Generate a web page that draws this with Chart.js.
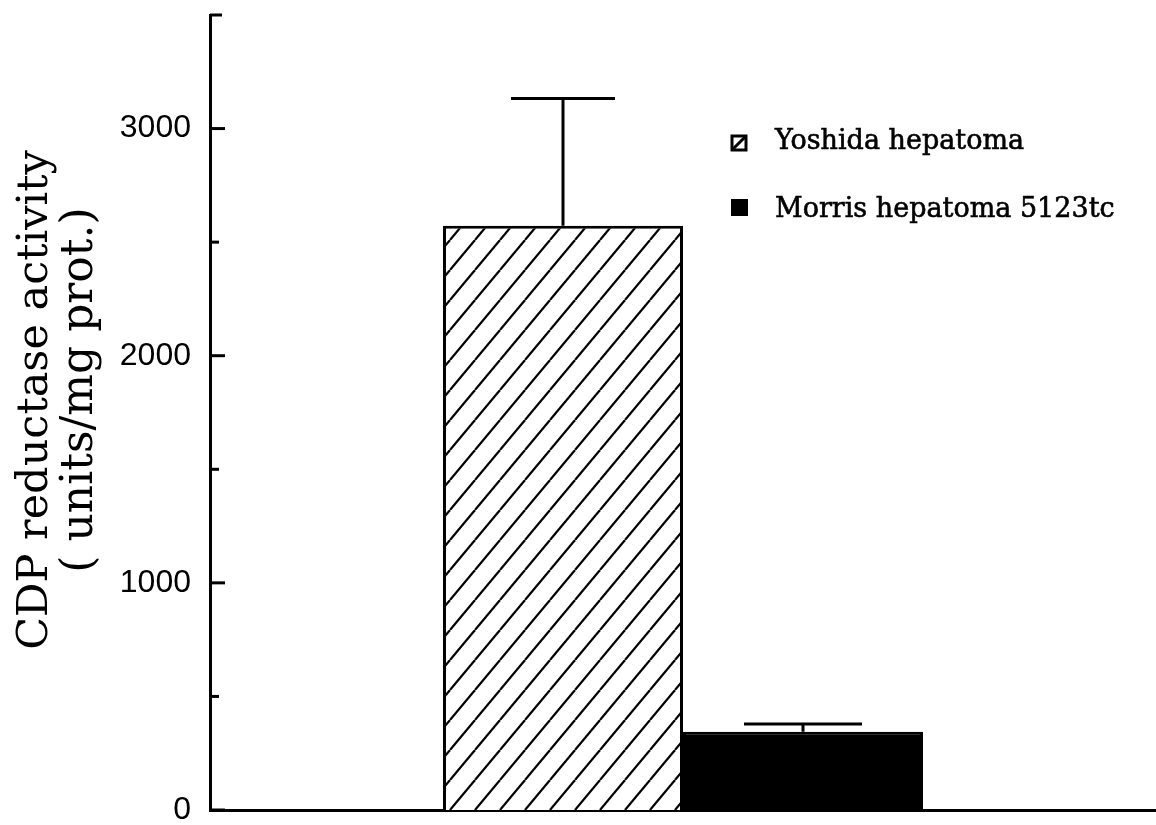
<!DOCTYPE html>
<html>
<head>
<meta charset="utf-8">
<script src="https://cdn.jsdelivr.net/npm/chart.js@4.4.0/dist/chart.umd.min.js"></script>
<style>
  html, body { margin: 0; padding: 0; background: #fff; }
  #wrap { width: 1156px; height: 825px; position: relative; }
</style>
</head>
<body>
<div id="wrap"><canvas id="c"></canvas></div>
<script>
// ---- data ----
const categories = [''];
const seriesNames = ['Yoshida hepatoma', 'Morris hepatoma 5123tc'];
const yoshidaValues = [2572];
const yoshidaErrors = [560];
const morrisValues = [344];
const morrisErrors = [35];
const yTickLabels = ['0', '1000', '2000', '3000'];
const yTitleLines = ['CDP reductase activity', '( units/mg prot.)'];

const canvas = document.getElementById('c');
const mainCtx = canvas.getContext('2d');

function makeHatch() {
  const w = 25, h = 30;
  const t = document.createElement('canvas');
  t.width = w; t.height = h;
  const g = t.getContext('2d');
  g.fillStyle = '#fff';
  g.fillRect(0, 0, w, h);
  g.strokeStyle = '#000';
  g.lineWidth = 2.2;
  for (const o of [-w, 0, w]) {
    g.beginPath();
    g.moveTo(o, h);
    g.lineTo(o + w, 0);
    g.stroke();
  }
  return mainCtx.createPattern(t, 'repeat');
}
const hatch = makeHatch();

const errorBars = {
  id: 'errorBars',
  afterDatasetsDraw(chart) {
    const ctx = chart.ctx;
    const y = chart.scales.y;
    const errs = [yoshidaErrors, morrisErrors];
    const capHalf = [52, 59];
    chart.data.datasets.forEach((ds, di) => {
      const meta = chart.getDatasetMeta(di);
      meta.data.forEach((bar, i) => {
        const v = ds.data[i];
        const top = y.getPixelForValue(v + errs[di][i]);
        const base = y.getPixelForValue(v);
        ctx.save();
        ctx.strokeStyle = '#000';
        ctx.lineWidth = 3;
        ctx.beginPath();
        ctx.moveTo(bar.x, base);
        ctx.lineTo(bar.x, top);
        ctx.moveTo(bar.x - capHalf[di], top);
        ctx.lineTo(bar.x + capHalf[di], top);
        ctx.stroke();
        ctx.restore();
      });
    });
  }
};

const inwardTicks = {
  id: 'inwardTicks',
  afterDraw(chart) {
    const ctx = chart.ctx;
    const y = chart.scales.y;
    const left = chart.chartArea.left;
    ctx.save();
    ctx.strokeStyle = '#000';
    ctx.lineWidth = 3;
    y.ticks.forEach(t => {
      const v = t.value;
      let len = (v % 1000 === 0) ? 15 : 9;
      if (v === y.max) len = 12;
      const py = y.getPixelForValue(v);
      ctx.beginPath();
      ctx.moveTo(left, py);
      ctx.lineTo(left + len, py);
      ctx.stroke();
    });
    ctx.restore();
  }
};

const yTitle = {
  id: 'yTitle',
  afterDraw(chart) {
    const ctx = chart.ctx;
    ctx.save();
    ctx.fillStyle = '#000';
    ctx.textAlign = 'center';
    ctx.textBaseline = 'alphabetic';
    const baselines = [47, 92];
    const centers = [400, 390];
    const sizes = [43, 44];
    yTitleLines.forEach((line, i) => {
      ctx.save();
      ctx.font = sizes[i] + 'px "DejaVu Serif"';
      ctx.translate(baselines[i], centers[i]);
      ctx.rotate(-Math.PI / 2);
      ctx.fillText(line, 0, 0);
      ctx.restore();
    });
    ctx.restore();
  }
};

const customLegend = {
  id: 'customLegend',
  afterDraw(chart) {
    const ctx = chart.ctx;
    ctx.save();
    ctx.font = '27px "DejaVu Serif"';
    ctx.fillStyle = '#000';
    ctx.strokeStyle = '#000';
    ctx.textBaseline = 'alphabetic';
    ctx.textAlign = 'left';
    ctx.lineWidth = 3;
    ctx.strokeRect(732, 136, 14, 14);
    ctx.beginPath();
    ctx.moveTo(732, 150);
    ctx.lineTo(746, 136);
    ctx.stroke();
    ctx.lineWidth = 0.6;
    ctx.fillText(seriesNames[0], 775, 149);
    ctx.strokeText(seriesNames[0], 775, 149);
    ctx.fillRect(731, 199, 17, 17);
    ctx.fillText(seriesNames[1], 775, 217);
    ctx.strokeText(seriesNames[1], 775, 217);
    ctx.restore();
  }
};

new Chart(canvas, {
  type: 'bar',
  data: {
    labels: categories,
    datasets: [
      {
        label: seriesNames[0],
        data: yoshidaValues,
        backgroundColor: hatch,
        borderColor: '#000',
        borderWidth: 3,
        categoryPercentage: 0.5074,
        barPercentage: 1.0
      },
      {
        label: seriesNames[1],
        data: morrisValues,
        backgroundColor: '#000',
        borderColor: '#000',
        borderWidth: 3,
        categoryPercentage: 0.5074,
        barPercentage: 1.0
      }
    ]
  },
  options: {
    responsive: true,
    maintainAspectRatio: false,
    animation: false,
    layout: { padding: { top: 15, right: 0, left: 0, bottom: 0 } },
    plugins: {
      legend: { display: false },
      tooltip: { enabled: false }
    },
    scales: {
      x: {
        grid: { display: false, drawTicks: false },
        border: { display: true, width: 3, color: '#000' },
        ticks: { display: false },
        afterFit(s) { s.height = 15; s.paddingLeft = 0; s.paddingRight = 0; }
      },
      y: {
        min: 0,
        max: 3500,
        grid: { display: false, drawTicks: false },
        border: { display: true, width: 3, color: '#000' },
        ticks: {
          stepSize: 500,
          autoSkip: false,
          color: '#000',
          padding: 19,
          font: { family: '"Liberation Sans"', size: 32 },
          callback: (v) => yTickLabels.includes(String(v)) ? String(v) : ''
        },
        afterFit(s) { s.width = 210; s.paddingTop = 0; s.paddingBottom = 0; }
      }
    }
  },
  plugins: [errorBars, inwardTicks, yTitle, customLegend]
});
</script>
</body>
</html>
